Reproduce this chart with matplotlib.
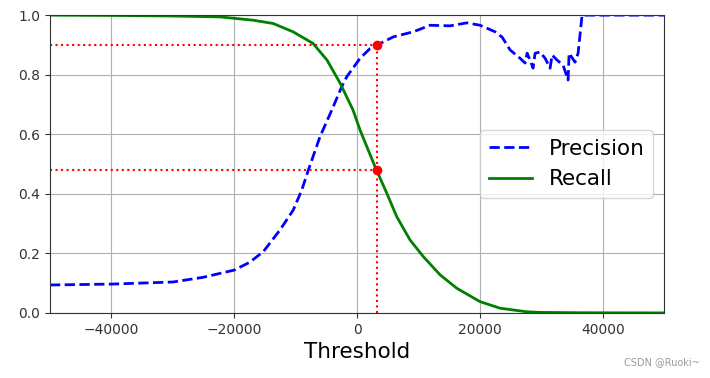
import matplotlib
matplotlib.use("Agg")
import matplotlib.pyplot as plt

# precision curve (threshold, value)
prec_t = [-50000, -40000, -30000, -25000, -20000, -17500, -15260, -12540, -10380,
          -9000, -7930, -6030, -4120, -2490, -1680, 490, 2120, 3300, 5910, 9170,
          11890, 15150, 17870, 20030, 22480, 23620, 24920, 26550, 27360, 27690,
          28180, 28660, 28990, 29800, 30620, 31430, 31760, 32570, 33550, 34360,
          34530, 35500, 35990, 36640, 50000]
prec_v = [0.094, 0.097, 0.104, 0.12, 0.144, 0.17, 0.206, 0.279, 0.346,
          0.413, 0.48, 0.592, 0.681, 0.76, 0.793, 0.855, 0.888, 0.90, 0.927, 0.944,
          0.966, 0.964, 0.974, 0.966, 0.944, 0.926, 0.883, 0.855, 0.839, 0.872,
          0.849, 0.822, 0.872, 0.876, 0.855, 0.822, 0.866, 0.849, 0.832, 0.782,
          0.872, 0.842, 0.872, 1.0, 1.0]

# recall curve
rec_t = [-50000, -40000, -30000, -22310, -16940, -13680, -10420, -7170, -4890,
         -2770, -650, 490, 2930, 4840, 6470, 8630, 10800, 13520, 16240, 20030,
         23290, 27640, 29800, 35000, 42000, 50000]
rec_v = [1.0, 0.999, 0.997, 0.994, 0.983, 0.972, 0.944, 0.905, 0.849,
         0.772, 0.681, 0.614, 0.491, 0.402, 0.323, 0.245, 0.189, 0.128, 0.083, 0.038,
         0.016, 0.004, 0.002, 0.001, 0.0005, 0.0003]

thr_90 = 3300
prec_90 = 0.9
rec_90 = 0.48

fig = plt.figure(figsize=(7.1, 3.78), dpi=100)
ax = fig.add_axes([0.0704, 0.172, 0.865, 0.788])

ax.plot(prec_t, prec_v, "b--", lw=2, label="Precision")
ax.plot(rec_t, rec_v, "g-", lw=2, label="Recall")

ax.plot([thr_90, thr_90], [0, prec_90], "r:", lw=1.5)
ax.plot([-50000, thr_90], [prec_90, prec_90], "r:", lw=1.5)
ax.plot([-50000, thr_90], [rec_90, rec_90], "r:", lw=1.5)
ax.plot([thr_90], [prec_90], "ro", ms=6)
ax.plot([thr_90], [rec_90], "ro", ms=6)

ax.legend(loc="center right", fontsize=15.5)
ax.set_xlabel("Threshold", fontsize=15.5)
ax.grid(True)
ax.set_xlim(-50000, 50000)
ax.set_ylim(0, 1)
ax.tick_params(labelsize=10, colors="#333333")
for s in ax.spines.values():
    s.set_edgecolor("#333333")

fig.text(0.985, 0.043, "CSDN @Ruoki~", ha="right", va="center", fontsize=7, color="#999999")

fig.savefig("out.png", dpi=100)
